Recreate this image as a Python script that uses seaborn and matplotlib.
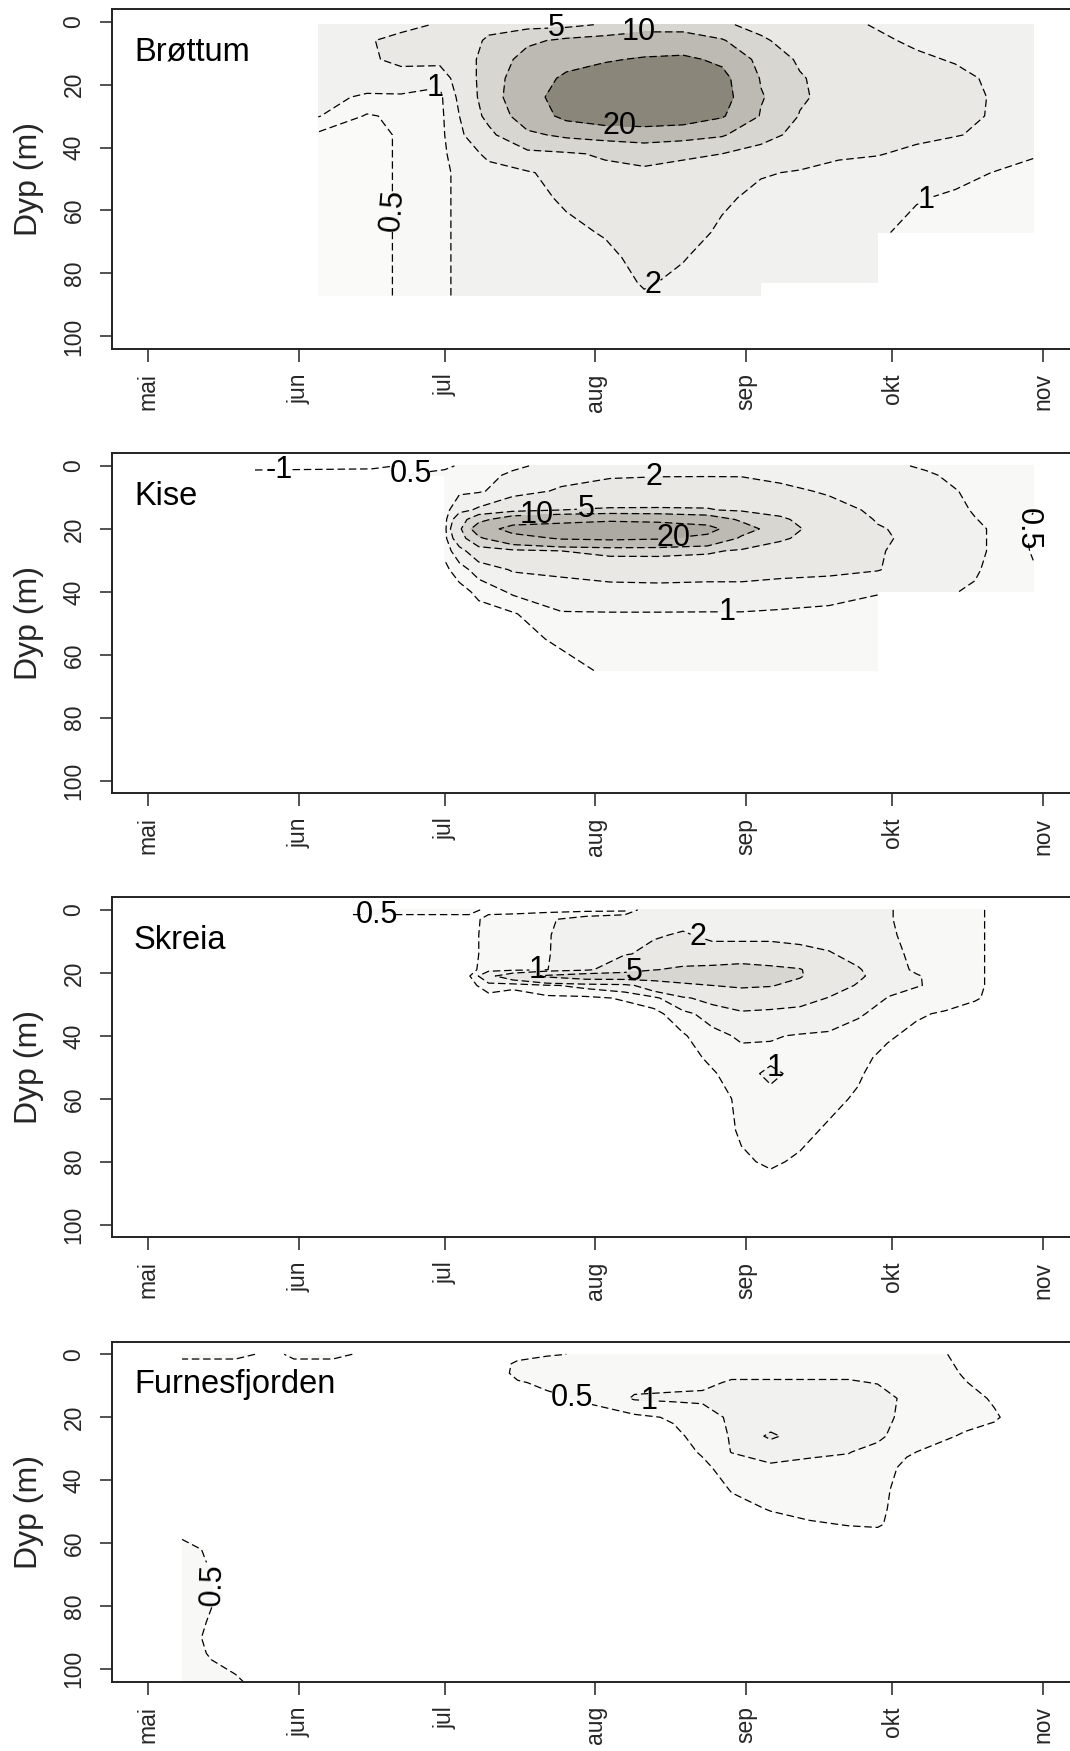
import numpy as np
import matplotlib
matplotlib.use("Agg")
import matplotlib.pyplot as plt
import seaborn as sns

nan = float("nan")

# ---------------- axis data ----------------
month_ticks = [0, 31, 61, 92, 123, 153, 184]          # days after 1 May
month_labels = ["mai", "jun", "jul", "aug", "sep", "okt", "nov"]
depth_ticks = [0, 20, 40, 60, 80, 100]
lake_names = ["Brøttum", "Kise", "Skreia", "Furnesfjorden"]

# ---------------- Brøttum ----------------
brottum_days = [35, 45, 52, 60, 65, 70, 78, 86, 94, 102, 110, 118, 126, 134, 142, 150, 158, 166, 174, 182]
brottum_depths = [1, 6, 12, 18, 24, 30, 36, 42, 48, 56, 67, 75, 83, 87]
brottum_values = [  # one list per day, from surface to bottom
    [1.5, 1.5, 1.4, 1.3, 1.2, 1.03, 0.4, 0.35, 0.3, 0.3, 0.3, 0.3, 0.3, 0.3],
    [1.5, 1.9, 1.8, 1.4, 0.9, 0.45, 0.35, 0.35, 0.35, 0.35, 0.35, 0.35, 0.35, 0.35],
    [1.7, 2.3, 2.3, 1.5, 0.9, 0.6, 0.55, 0.55, 0.55, 0.55, 0.55, 0.55, 0.55, 0.55],
    [2.1, 2.4, 2.4, 1.2, 0.8, 0.75, 0.75, 0.75, 0.75, 0.75, 0.75, 0.75, 0.75, 0.75],
    [3.0, 3.5, 3.5, 3.0, 2.6, 2.3, 2.0, 1.6, 1.3, 1.3, 1.3, 1.3, 1.3, 1.3],
    [4.0, 5.5, 6.5, 7.0, 7.0, 6.0, 4.0, 2.2, 1.7, 1.6, 1.5, 1.5, 1.5, 1.5],
    [3.5, 9.0, 12.0, 14.0, 15.0, 13.0, 9.0, 4.0, 1.8, 1.6, 1.5, 1.5, 1.5, 1.5],
    [3.8, 11.0, 16.0, 22.0, 26.0, 23.0, 11.0, 4.5, 2.8, 2.2, 1.7, 1.5, 1.5, 1.5],
    [5.5, 12.0, 19.0, 25.0, 30.0, 28.0, 12.0, 5.5, 4.0, 3.0, 2.1, 1.7, 1.5, 1.5],
    [7.5, 13.0, 21.0, 28.0, 31.0, 29.0, 13.0, 6.0, 4.5, 3.5, 2.8, 2.4, 2.1, 1.9],
    [7.5, 13.0, 22.0, 28.0, 30.0, 27.0, 12.0, 5.5, 4.0, 3.0, 2.5, 2.05, 1.8, 1.7],
    [5.5, 10.5, 18.0, 23.0, 24.0, 21.0, 10.5, 5.0, 3.0, 2.2, 1.8, 1.6, 1.5, 1.5],
    [4.0, 5.5, 7.5, 9.5, 10.5, 9.5, 6.5, 3.5, 2.1, 1.7, 1.5, 1.4, 1.4, 1.4],
    [2.8, 3.5, 4.5, 5.3, 5.5, 4.8, 3.8, 2.6, 1.9, 1.6, 1.5, 1.4, 1.4, nan],
    [2.3, 2.6, 3.0, 3.5, 3.6, 3.3, 2.8, 2.1, 1.8, 1.5, 1.4, 1.3, 1.3, nan],
    [1.9, 2.2, 2.6, 3.0, 3.1, 2.9, 2.5, 2.05, 1.6, 1.3, 1.1, 1.05, 1.02, nan],
    [1.6, 1.8, 2.2, 2.6, 2.7, 2.6, 2.2, 1.8, 1.4, 1.05, 0.8, nan, nan, nan],
    [1.4, 1.6, 1.9, 2.3, 2.4, 2.3, 2.05, 1.5, 1.2, 0.9, 0.75, nan, nan, nan],
    [1.3, 1.4, 1.6, 1.8, 1.9, 1.9, 1.8, 1.3, 0.98, 0.8, 0.7, nan, nan, nan],
    [1.2, 1.3, 1.4, 1.5, 1.5, 1.5, 1.4, 1.05, 0.85, 0.7, 0.65, nan, nan, nan],
]
brottum_lines = [0.5, 1, 2, 5, 10, 20]
# (level, day, depth, break line, rotation)
brottum_labels = [(5, 84, 3, True, 0), (10, 101, 4, True, 0), (20, 97, 34, True, 0),
                  (2, 104, 84, True, 0), (1, 160, 57, True, 0), (1, 59, 20, True, 0),
                  (0.5, 50, 60, True, 85)]

# ---------------- Kise ----------------
kise_days = [22, 46, 61, 64, 68, 75, 85, 95, 105, 115, 122, 130, 140, 150, 160, 170, 176, 182]
kise_depths = [0, 3, 8, 14, 17, 20, 23, 27, 33, 40, 47, 55, 65]
kise_values = [
    [-2.0, 0.3, nan, nan, nan, nan, nan, nan, nan, nan, nan, nan, nan],
    [-1.6, 0.3, nan, nan, nan, nan, nan, nan, nan, nan, nan, nan, nan],
    [0.3, 0.8, 0.75, 0.7, 0.7, 0.7, 0.7, 0.6, 0.4, 0.3, 0.3, 0.3, 0.3],
    [0.6, 0.8, 0.85, 1.6, 3.0, 4.0, 3.0, 1.5, 0.7, 0.35, 0.3, 0.3, 0.3],
    [0.7, 0.8, 0.9, 2.2, 8.0, 14.0, 9.0, 3.0, 1.3, 0.6, 0.35, 0.3, 0.3],
    [0.9, 1.1, 1.4, 3.5, 14.0, 24.0, 16.0, 4.0, 2.1, 1.1, 0.45, 0.3, 0.3],
    [1.2, 1.5, 2.2, 5.0, 16.0, 26.0, 21.0, 5.0, 2.3, 1.4, 0.95, 0.6, 0.3],
    [1.4, 1.8, 2.8, 5.3, 18.0, 28.0, 22.0, 6.0, 2.5, 1.6, 0.95, 0.8, 0.6],
    [1.6, 1.9, 3.0, 5.3, 17.0, 27.0, 21.0, 6.0, 2.6, 1.6, 0.95, 0.8, 0.65],
    [1.7, 1.9, 3.2, 5.2, 14.0, 24.0, 17.0, 5.5, 2.6, 1.5, 0.95, 0.8, 0.65],
    [1.5, 1.9, 3.0, 4.5, 9.0, 13.0, 9.0, 4.5, 2.6, 1.5, 0.95, 0.8, 0.65],
    [1.4, 1.6, 2.4, 4.0, 5.5, 6.5, 5.5, 3.5, 2.4, 1.4, 0.9, 0.8, 0.65],
    [1.3, 1.4, 1.8, 2.6, 3.0, 3.2, 3.1, 2.8, 2.3, 1.25, 0.85, 0.75, 0.6],
    [1.1, 1.2, 1.4, 1.7, 1.9, 2.1, 2.2, 2.1, 2.05, 1.05, 0.7, 0.6, 0.55],
    [0.95, 1.05, 1.2, 1.4, 1.5, 1.6, 1.6, 1.5, 1.4, 1.1, nan, nan, nan],
    [0.8, 0.85, 0.9, 0.95, 1.02, 1.1, 1.1, 1.1, 1.05, 0.95, nan, nan, nan],
    [0.7, 0.7, 0.75, 0.8, 0.8, 0.85, 0.85, 0.85, 0.8, 0.75, nan, nan, nan],
    [0.55, 0.55, 0.55, 0.52, 0.45, 0.42, 0.42, 0.45, 0.55, 0.6, nan, nan, nan],
]
kise_lines = [-1, 0.5, 1, 2, 5, 10, 20]
kise_labels = [(-1, 27, 1.2, True, 0), (0.5, 54, 2.5, True, 0), (2, 104, 4, True, 0),
               (5, 90, 13, True, 0), (10, 80, 16, True, 0), (20, 108, 22, True, 0),
               (1, 119, 46, True, 0), (0.5, 181, 20, True, -90)]

# ---------------- Skreia ----------------
skreia_days = [42, 52, 60, 66, 70, 75, 82, 90, 98, 104, 110, 116, 122, 128, 134, 140, 146, 152, 158, 164, 170, 176]
skreia_depths = [0, 3, 8, 14, 19, 21, 24, 28, 33, 40, 47, 52, 60, 70, 80, 87]
skreia_values = [
    [0.7, 0.3, 0.3, 0.3, 0.3, 0.3, 0.3, 0.3, 0.3, 0.3, 0.3, 0.3, 0.3, 0.3, 0.3, 0.3],
    [0.7, 0.3, 0.3, 0.3, 0.3, 0.3, 0.3, 0.3, 0.3, 0.3, 0.3, 0.3, 0.3, 0.3, 0.3, 0.3],
    [0.7, 0.3, 0.3, 0.3, 0.3, 0.3, 0.3, 0.3, 0.3, 0.3, 0.3, 0.3, 0.3, 0.3, 0.3, 0.3],
    [0.7, 0.3, 0.3, 0.3, 0.3, 0.45, 0.3, 0.3, 0.3, 0.3, 0.3, 0.3, 0.3, 0.3, 0.3, 0.3],
    [0.35, 0.65, 0.7, 0.7, 0.8, 1.6, 0.8, 0.3, 0.3, 0.3, 0.3, 0.3, 0.3, 0.3, 0.3, 0.3],
    [0.35, 0.7, 0.75, 0.75, 0.8, 3.0, 0.6, 0.3, 0.3, 0.3, 0.3, 0.3, 0.3, 0.3, 0.3, 0.3],
    [0.35, 0.9, 0.95, 0.95, 0.98, 5.5, 0.9, 0.4, 0.3, 0.3, 0.3, 0.3, 0.3, 0.3, 0.3, 0.3],
    [0.35, 1.3, 1.4, 1.5, 1.6, 7.0, 1.2, 0.4, 0.3, 0.3, 0.3, 0.3, 0.3, 0.3, 0.3, 0.3],
    [0.35, 1.6, 1.6, 1.9, 3.5, 7.0, 1.5, 0.55, 0.3, 0.3, 0.3, 0.3, 0.3, 0.3, 0.3, 0.3],
    [1.8, 1.8, 1.9, 2.3, 4.9, 7.0, 3.0, 0.8, 0.35, 0.3, 0.3, 0.3, 0.3, 0.3, 0.3, 0.3],
    [1.7, 1.7, 2.1, 3.2, 5.5, 6.5, 4.5, 1.8, 0.8, 0.45, 0.3, 0.3, 0.3, 0.3, 0.3, 0.3],
    [1.7, 1.7, 1.8, 2.4, 6.0, 6.5, 5.0, 2.5, 1.3, 0.8, 0.6, 0.45, 0.3, 0.3, 0.3, 0.3],
    [1.5, 1.5, 1.7, 2.6, 6.5, 6.5, 5.5, 3.0, 1.8, 1.1, 0.8, 0.75, 0.6, 0.55, 0.45, 0.3],
    [1.5, 1.5, 1.7, 2.6, 5.8, 6.0, 5.2, 2.8, 1.7, 1.05, 0.85, 1.15, 0.8, 0.6, 0.55, 0.4],
    [1.4, 1.4, 1.6, 2.4, 5.2, 5.3, 4.0, 2.5, 1.6, 0.95, 0.8, 0.8, 0.7, 0.6, 0.45, 0.3],
    [1.3, 1.3, 1.5, 2.1, 3.0, 3.0, 2.6, 1.95, 1.4, 0.9, 0.75, 0.7, 0.6, 0.45, 0.3, 0.3],
    [1.2, 1.2, 1.3, 1.6, 2.1, 2.2, 1.9, 1.6, 1.1, 0.65, 0.6, 0.55, 0.45, 0.3, 0.3, 0.3],
    [1.05, 1.05, 1.1, 1.2, 1.3, 1.4, 1.2, 0.98, 0.7, 0.55, 0.4, 0.3, 0.3, 0.3, 0.3, 0.3],
    [0.8, 0.8, 0.8, 0.85, 0.9, 1.05, 1.05, 0.7, 0.55, 0.4, 0.3, 0.3, 0.3, 0.3, 0.3, 0.3],
    [0.7, 0.7, 0.7, 0.7, 0.75, 0.75, 0.8, 0.7, 0.45, 0.3, 0.3, 0.3, 0.3, 0.3, 0.3, 0.3],
    [0.6, 0.6, 0.6, 0.6, 0.6, 0.6, 0.6, 0.55, 0.3, 0.3, 0.3, 0.3, 0.3, 0.3, 0.3, 0.3],
    [0.3, 0.3, 0.3, 0.3, 0.3, 0.3, 0.3, 0.3, 0.3, 0.3, 0.3, 0.3, 0.3, 0.3, 0.3, 0.3],
]
skreia_lines = [0.5, 1, 2, 5]
skreia_labels = [(0.5, 47, 1.5, True, 0), (1, 80, 20, True, 0), (5, 100, 20, True, 0),
                 (2, 113, 9, True, 0), (1, 129, 50, False, 0)]

# ---------------- Furnesfjorden ----------------
furnes_days = [7, 12, 18, 26, 30, 38, 46, 72, 76, 82, 90, 100, 108, 114, 120, 128, 136, 144, 150, 156, 162, 168, 174, 180]
furnes_depths = [0, 3, 6, 9, 14, 20, 26, 31, 36, 43, 49, 54, 58, 62, 70, 80, 90, 97, 104]
furnes_values = [
    [0.7, 0.3, 0.3, 0.3, 0.3, 0.3, 0.3, 0.3, 0.3, 0.3, 0.3, 0.3, 0.45, 0.7, 0.7, 0.7, 0.7, 0.7, 0.7],
    [0.7, 0.3, 0.3, 0.3, 0.3, 0.3, 0.3, 0.3, 0.3, 0.3, 0.3, 0.3, 0.3, 0.45, 0.55, 0.55, 0.45, 0.52, 0.6],
    [0.7, 0.3, 0.3, 0.3, 0.3, 0.3, 0.3, 0.3, 0.3, 0.3, 0.3, 0.3, 0.3, 0.3, 0.3, 0.3, 0.3, 0.4, 0.55],
    [0.3, 0.3, 0.3, 0.3, 0.3, 0.3, 0.3, 0.3, 0.3, 0.3, 0.3, 0.3, 0.3, 0.3, 0.3, 0.3, 0.3, 0.3, 0.3],
    [0.7, 0.3, 0.3, 0.3, 0.3, 0.3, 0.3, 0.3, 0.3, 0.3, 0.3, 0.3, 0.3, 0.3, 0.3, 0.3, 0.3, 0.3, 0.3],
    [0.7, 0.3, 0.3, 0.3, 0.3, 0.3, 0.3, 0.3, 0.3, 0.3, 0.3, 0.3, 0.3, 0.3, 0.3, 0.3, 0.3, 0.3, 0.3],
    [0.3, 0.3, 0.3, 0.3, 0.3, 0.3, 0.3, 0.3, 0.3, 0.3, 0.3, 0.3, 0.3, 0.3, 0.3, 0.3, 0.3, 0.3, 0.3],
    [0.3, 0.3, 0.3, 0.3, 0.3, 0.3, 0.3, 0.3, 0.3, 0.3, 0.3, 0.3, 0.3, 0.3, 0.3, 0.3, 0.3, 0.3, 0.3],
    [0.3, 0.6, 0.65, 0.45, 0.3, 0.3, 0.3, 0.3, 0.3, 0.3, 0.3, 0.3, 0.3, 0.3, 0.3, 0.3, 0.3, 0.3, 0.3],
    [0.45, 0.7, 0.75, 0.6, 0.4, 0.3, 0.3, 0.3, 0.3, 0.3, 0.3, 0.3, 0.3, 0.3, 0.3, 0.3, 0.3, 0.3, 0.3],
    [0.55, 0.75, 0.8, 0.8, 0.55, 0.35, 0.3, 0.3, 0.3, 0.3, 0.3, 0.3, 0.3, 0.3, 0.3, 0.3, 0.3, 0.3, 0.3],
    [0.6, 0.75, 0.8, 0.85, 1.05, 0.4, 0.3, 0.3, 0.3, 0.3, 0.3, 0.3, 0.3, 0.3, 0.3, 0.3, 0.3, 0.3, 0.3],
    [0.6, 0.75, 0.8, 0.85, 1.1, 0.55, 0.4, 0.3, 0.3, 0.3, 0.3, 0.3, 0.3, 0.3, 0.3, 0.3, 0.3, 0.3, 0.3],
    [0.65, 0.8, 0.85, 0.9, 1.1, 0.75, 0.65, 0.55, 0.4, 0.3, 0.3, 0.3, 0.3, 0.3, 0.3, 0.3, 0.3, 0.3, 0.3],
    [0.7, 0.85, 0.9, 1.05, 1.2, 1.1, 1.05, 1.02, 0.7, 0.52, 0.4, 0.3, 0.3, 0.3, 0.3, 0.3, 0.3, 0.3, 0.3],
    [0.7, 0.85, 0.9, 1.05, 1.25, 1.3, 2.2, 1.25, 0.9, 0.75, 0.52, 0.4, 0.3, 0.3, 0.3, 0.3, 0.3, 0.3, 0.3],
    [0.7, 0.85, 0.9, 1.05, 1.3, 1.35, 1.35, 1.1, 0.85, 0.75, 0.65, 0.45, 0.3, 0.3, 0.3, 0.3, 0.3, 0.3, 0.3],
    [0.7, 0.85, 0.9, 1.05, 1.3, 1.35, 1.25, 1.02, 0.85, 0.75, 0.7, 0.52, 0.35, 0.3, 0.3, 0.3, 0.3, 0.3, 0.3],
    [0.75, 0.85, 0.9, 0.98, 1.2, 1.2, 1.1, 0.85, 0.7, 0.65, 0.6, 0.55, 0.35, 0.3, 0.3, 0.3, 0.3, 0.3, 0.3],
    [0.7, 0.75, 0.8, 0.85, 0.9, 0.85, 0.75, 0.55, 0.4, 0.3, 0.3, 0.3, 0.3, 0.3, 0.3, 0.3, 0.3, 0.3, 0.3],
    [0.6, 0.65, 0.7, 0.75, 0.8, 0.75, 0.6, 0.4, 0.3, 0.3, 0.3, 0.3, 0.3, 0.3, 0.3, 0.3, 0.3, 0.3, 0.3],
    [0.35, 0.4, 0.45, 0.52, 0.65, 0.65, 0.45, 0.3, 0.3, 0.3, 0.3, 0.3, 0.3, 0.3, 0.3, 0.3, 0.3, 0.3, 0.3],
    [0.3, 0.3, 0.3, 0.3, 0.45, 0.55, 0.35, 0.3, 0.3, 0.3, 0.3, 0.3, 0.3, 0.3, 0.3, 0.3, 0.3, 0.3, 0.3],
    [0.3, 0.3, 0.3, 0.3, 0.3, 0.3, 0.3, 0.3, 0.3, 0.3, 0.3, 0.3, 0.3, 0.3, 0.3, 0.3, 0.3, 0.3, 0.3],
]
furnes_lines = [0.5, 1, 2]
furnes_labels = [(0.5, 87, 15, True, 0), (1, 103, 14, True, 0), (0.5, 11, 73, True, 88)]

# ---------------- styling ----------------
fill_levels = [-10, 0.5, 1, 2, 5, 10, 20, 100]
fill_colors = ["#F8F8F6", "#F1F1EF", "#E9E8E5", "#D7D6D1", "#BCBAB2"]
low_colors = ["#FAFAF9", "#FFFFFF", "#FFFFFF", "#FFFFFF"]
core_colors = ["#8A877A", "#ACAAA2", "#A0A095", "#A0A095"]
label_size = 22

sns.set_theme(style="white")
plt.rcParams["font.family"] = ["Liberation Sans", "DejaVu Sans"]
plt.rcParams["lines.dashed_pattern"] = [6, 3]
plt.rcParams["contour.negative_linestyle"] = "dashed"

W, H = 1070, 1751
fig = plt.figure(figsize=(W / 100, H / 100), dpi=100)
left_px, right_px = 112, 1090
tops = [9, 453.3, 897.3, 1341.7]
h_px = 340
x_left = (left_px - 148) / 4.864
x_right = (right_px - 148) / 4.864

panels = [
    (brottum_days, brottum_depths, brottum_values, brottum_lines, brottum_labels),
    (kise_days, kise_depths, kise_values, kise_lines, kise_labels),
    (skreia_days, skreia_depths, skreia_values, skreia_lines, skreia_labels),
    (furnes_days, furnes_depths, furnes_values, furnes_lines, furnes_labels),
]

fmt = lambda v: f"{v:g}"

for i, (days, depths, values, lines, labels) in enumerate(panels):
    ax = fig.add_axes([left_px / W, 1 - (tops[i] + h_px) / H,
                       (right_px - left_px) / W, h_px / H])
    ax.set_facecolor("white")
    Z = np.ma.masked_invalid(np.array(values, dtype=float).T)
    ax.contourf(days, depths, Z, levels=fill_levels,
                colors=[low_colors[i]] + fill_colors + [core_colors[i]],
                corner_mask=False)
    for lev in lines:
        cs = ax.contour(days, depths, Z, levels=[lev], colors="black",
                        linewidths=0.9, linestyles="dashed", corner_mask=False)
        for (l, lx, ly, fl, rot) in labels:
            if l != lev:
                continue
            try:
                n_before = len(cs.labelTexts) if hasattr(cs, "labelTexts") else 0
                texts = ax.clabel(cs, manual=[(lx, ly)], inline=fl,
                                  inline_spacing=3, fontsize=label_size,
                                  fmt=fmt, colors="black")
                for t in texts[n_before:]:
                    t.set_rotation(rot)
                    t.set_fontsize(label_size)
            except Exception as e:
                print("label failed", lev, e)

    ax.set_xlim(x_left, x_right)
    ax.set_ylim(104, -4)
    ax.set_xticks(month_ticks)
    ax.set_xticklabels(month_labels, rotation=90)
    ax.set_yticks(depth_ticks)
    ax.set_yticklabels([str(t) for t in depth_ticks], rotation=90, va="center")
    ax.tick_params(axis="x", direction="out", length=9.5, width=1.1,
                   color="#222222", labelsize=16.5, pad=8, bottom=True)
    ax.tick_params(axis="y", direction="out", length=9, width=1.1,
                   color="#222222", labelsize=16.5, pad=10, left=True)
    ax.set_ylabel("Dyp (m)", fontsize=23)
    ax.yaxis.set_label_coords((44 - left_px) / (right_px - left_px), 0.5)
    for side in ["left", "bottom", "top", "right"]:
        ax.spines[side].set_visible(True)
        ax.spines[side].set_color("#222222")
        ax.spines[side].set_linewidth(1.4)
    ax.grid(False)
    ax.text(-2.9, 12.4, lake_names[i], fontsize=23.5, ha="left",
            va="baseline", color="black")

fig.savefig("out.png", dpi=100)
